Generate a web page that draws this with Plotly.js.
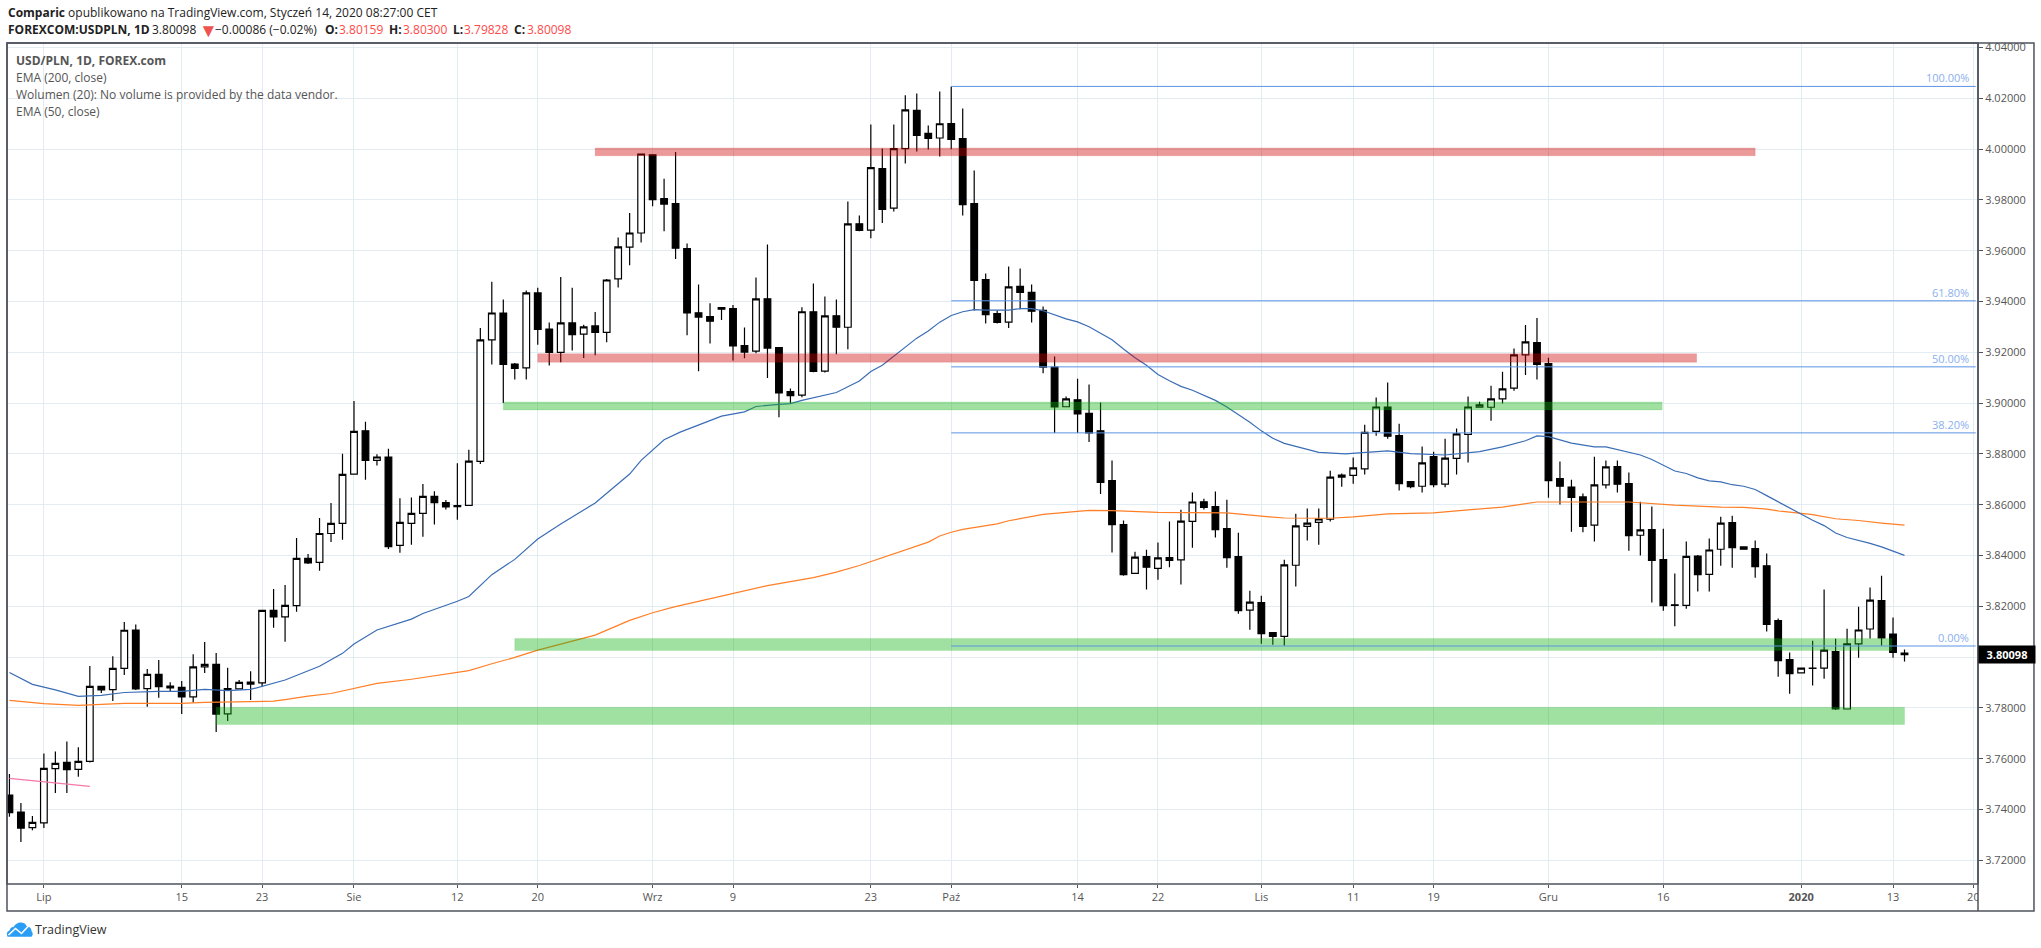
<!DOCTYPE html>
<html><head><meta charset="utf-8">
<script src="https://cdn.plot.ly/plotly-3.0.1.min.js"></script>
<style>html,body{margin:0;padding:0;background:#fff}#c{width:2041px;height:948px}</style></head>
<body><div id="c"></div>
<script>
const opens=[3.7457,3.7390,3.7329,3.7348,3.7561,3.7586,3.7558,3.7590,3.7885,3.7872,
3.7956,3.8107,3.7876,3.7932,3.7886,3.7881,3.7844,3.7962,3.7972,3.7777,
3.7875,3.7902,3.7899,3.8184,3.8159,3.8203,3.8389,3.8373,3.8487,3.8527,
3.8721,3.8891,3.8775,3.8788,3.8440,3.8527,3.8566,3.8633,3.8609,3.8597,
3.8598,3.8771,3.9249,3.9355,3.9154,3.9139,3.9434,3.9292,3.9200,3.9316,
3.9272,3.9304,3.9279,3.9489,3.9614,3.9670,3.9978,3.9805,3.9786,3.9609,
3.9356,3.9341,3.9376,3.9372,3.9227,3.9205,3.9411,3.9219,3.9046,3.9032,
3.9360,3.9126,3.9344,3.9299,3.9706,3.9681,3.9924,3.9768,4.0002,4.0153,
4.0062,4.0044,4.0101,4.0042,3.9786,3.9487,3.9353,3.9319,3.9460,3.9436,
3.9365,3.9142,3.8986,3.9013,3.8960,3.8891,3.8695,3.8522,3.8330,3.8396,
3.8350,3.8392,3.8383,3.8535,3.8612,3.8593,3.8506,3.8396,3.8185,3.8215,
3.8097,3.8082,3.8362,3.8515,3.8531,3.8543,3.8709,3.8716,3.8741,3.8889,
3.8985,3.8872,3.8691,3.8673,3.8790,3.8681,3.8783,3.8877,3.8984,3.8984,
3.9017,3.9059,3.9190,3.9238,3.9156,3.8703,3.8670,3.8631,3.8520,3.8678,
3.8750,3.8683,3.8480,3.8502,3.8384,3.8206,3.8204,3.8398,3.8326,3.8425,
3.8530,3.8434,3.8427,3.8360,3.8144,3.7990,3.7938,3.7957,3.7957,3.8022,
3.7796,3.8052,3.8111,3.8223,3.8091,3.80159];
const highs=[3.7540,3.7426,3.7375,3.7621,3.7629,3.7668,3.7645,3.7965,3.7885,3.8004,
3.8138,3.8129,3.7953,3.7989,3.7901,3.7906,3.8012,3.8060,3.8016,3.7958,
3.7910,3.7945,3.8184,3.8268,3.8284,3.8469,3.8406,3.8548,3.8607,3.8801,
3.9009,3.8927,3.8799,3.8821,3.8626,3.8629,3.8682,3.8653,3.8619,3.8763,
3.8817,3.9296,3.9478,3.9408,3.9158,3.9444,3.9454,3.9318,3.9497,3.9454,
3.9309,3.9359,3.9489,3.9652,3.9749,3.9981,3.9978,3.9884,3.9989,3.9629,
3.9467,3.9393,3.9376,3.9387,3.9298,3.9495,3.9625,3.9219,3.9058,3.9378,
3.9471,3.9420,3.9408,3.9794,3.9739,4.0097,4.0003,4.0097,4.0212,4.0219,
4.0093,4.0227,4.0247,4.0160,3.9916,3.9511,3.9365,3.9538,3.9530,3.9467,
3.9381,3.9184,3.9026,3.9096,3.9074,3.9003,3.8774,3.8538,3.8415,3.8423,
3.8451,3.8534,3.8580,3.8648,3.8624,3.8652,3.8620,3.8490,3.8262,3.8242,
3.8097,3.8384,3.8565,3.8585,3.8585,3.8734,3.8723,3.8786,3.8915,3.9022,
3.9081,3.8919,3.8691,3.8829,3.8809,3.8860,3.8900,3.9026,3.9006,3.9069,
3.9124,3.9215,3.9308,3.9335,3.9179,3.8770,3.8699,3.8644,3.8789,3.8774,
3.8774,3.8727,3.8612,3.8593,3.8506,3.8329,3.8455,3.8402,3.8467,3.8553,
3.8557,3.8434,3.8459,3.8408,3.8152,3.8018,3.7957,3.8065,3.8266,3.8073,
3.8112,3.8199,3.8274,3.8321,3.8156,3.80300];
const lows=[3.7372,3.7272,3.7319,3.7327,3.7465,3.7465,3.7529,3.7585,3.7859,3.7827,
3.7930,3.7871,3.7805,3.7840,3.7865,3.7776,3.7822,3.7938,3.7705,3.7749,
3.7875,3.7831,3.7884,3.8116,3.8061,3.8179,3.8367,3.8340,3.8453,3.8462,
3.8719,3.8699,3.8755,3.8426,3.8411,3.8443,3.8474,3.8522,3.8581,3.8541,
3.8596,3.8761,3.9152,3.9001,3.9093,3.9093,3.9230,3.9148,3.9161,3.9207,
3.9178,3.9189,3.9240,3.9455,3.9543,3.9633,3.9775,3.9677,3.9568,3.9267,
3.9126,3.9235,3.9327,3.9168,3.9177,3.9197,3.9099,3.8945,3.8998,3.9023,
3.9122,3.9121,3.9193,3.9212,3.9677,3.9649,3.9709,3.9755,3.9944,3.9991,
3.9999,3.9971,4.0000,3.9739,3.9365,3.9314,3.9314,3.9296,3.9370,3.9318,
3.9118,3.8883,3.8985,3.8883,3.8847,3.8642,3.8412,3.8321,3.8330,3.8266,
3.8305,3.8354,3.8286,3.8431,3.8581,3.8471,3.8352,3.8171,3.8108,3.8053,
3.8049,3.8045,3.8278,3.8459,3.8443,3.8534,3.8671,3.8683,3.8719,3.8872,
3.8860,3.8656,3.8665,3.8648,3.8669,3.8669,3.8719,3.8766,3.8984,3.8931,
3.8999,3.9049,3.9111,3.9093,3.8628,3.8601,3.8494,3.8492,3.8455,3.8664,
3.8648,3.8419,3.8400,3.8215,3.8183,3.8122,3.8191,3.8259,3.8259,3.8360,
3.8352,3.8425,3.8313,3.8101,3.7923,3.7856,3.7938,3.7888,3.7915,3.7792,
3.7796,3.7998,3.8074,3.8045,3.7998,3.79828];
const closes=[3.7388,3.7327,3.7350,3.7562,3.7582,3.7557,3.7590,3.7885,3.7871,3.7956,
3.8106,3.7875,3.7932,3.7884,3.7879,3.7844,3.7962,3.7972,3.7776,3.7876,
3.7901,3.7894,3.8184,3.8159,3.8204,3.8389,3.8371,3.8487,3.8527,3.8720,
3.8889,3.8775,3.8788,3.8435,3.8531,3.8566,3.8633,3.8608,3.8592,3.8593,
3.8772,3.9249,3.9355,3.9153,3.9137,3.9434,3.9290,3.9200,3.9316,3.9270,
3.9300,3.9279,3.9485,3.9615,3.9670,3.9981,3.9801,3.9784,3.9610,3.9355,
3.9339,3.9323,3.9370,3.9225,3.9201,3.9411,3.9217,3.9040,3.9030,3.9360,
3.9125,3.9344,3.9299,3.9706,3.9680,3.9927,3.9763,4.0002,4.0155,4.0054,
4.0042,4.0100,4.0038,3.9782,3.9483,3.9349,3.9318,3.9458,3.9436,3.9362,
3.9142,3.8985,3.9017,3.8958,3.8883,3.8688,3.8522,3.8325,3.8394,3.8354,
3.8391,3.8381,3.8536,3.8611,3.8590,3.8502,3.8392,3.8183,3.8217,3.8093,
3.8082,3.8363,3.8517,3.8528,3.8544,3.8709,3.8717,3.8745,3.8885,3.8985,
3.8870,3.8683,3.8671,3.8765,3.8679,3.8784,3.8879,3.8985,3.8993,3.9017,
3.9056,3.9190,3.9241,3.9153,3.8695,3.8673,3.8629,3.8515,3.8678,3.8749,
3.8681,3.8478,3.8501,3.8381,3.8203,3.8204,3.8397,3.8325,3.8422,3.8528,
3.8431,3.8425,3.8356,3.8129,3.7986,3.7935,3.7957,3.7956,3.8028,3.7796,
3.8052,3.8107,3.8225,3.8076,3.8019,3.80098];

const ema50Bars=[-3,-1,1,3,5,7,10,12,14,16,18,21,24,26,27,29,32,33,36,37,39,41,43,45,48,51,52,54,55.4,59,61,62,64,65,66,69,71,72,73,74,76,77,78,79,80,81,82,84,85,86,87,89,90,91,92,93,94,95,96,97,98,99,100,102,103,104,105,106,107,108,111,113.3,115,117,119,122,125,127,129,130,131,133,135,136,139,140,142,143,144,145,146,147,148,149,150,151,152,153,154,155,156,157,158,159,160,161,162];
const ema50=[3.7940,3.7893,3.7871,3.7846,3.7850,3.7861,3.7865,3.7865,3.7873,3.7868,3.7873,3.7910,3.7964,3.8015,3.8052,3.8107,3.8150,3.8172,3.8220,3.8239,3.8325,3.8385,3.8465,3.8524,3.8607,3.8721,3.8775,3.8856,3.8886,3.8949,3.8966,3.8987,3.8995,3.8998,3.9011,3.9042,3.9087,3.9125,3.9149,3.9184,3.9256,3.9284,3.9319,3.9345,3.9360,3.9368,3.9366,3.9366,3.9372,3.9372,3.9364,3.9332,3.9320,3.9301,3.9277,3.9250,3.9213,3.9179,3.9149,3.9113,3.9088,3.9066,3.9051,3.9011,3.8985,3.8956,3.8925,3.8891,3.8862,3.8842,3.8806,3.8800,3.8805,3.8812,3.8801,3.8796,3.8809,3.8828,3.8852,3.8871,3.8868,3.8843,3.8828,3.8828,3.8796,3.8778,3.8733,3.8723,3.8706,3.8694,3.8690,3.8679,3.8673,3.8660,3.8636,3.8611,3.8587,3.8561,3.8539,3.8518,3.8489,3.8471,3.8460,3.8448,3.8434,3.8417,3.8401];

const ema200Bars=[-3,0,3,5,7,12,14,18,20,21,23,25,27,29,32,35,37,39,41,43,48,51,53,54.8,60,63,67,69,71,72,77,78,79,80,83,84,87,91,93,97,103,106,108,112,114,117,121,124,127,130,138,142,146,148,150,151,154,156,158,160,162];
const ema200=[3.7830,3.7817,3.7810,3.7813,3.7818,3.7818,3.7822,3.7825,3.7827,3.7833,3.7847,3.7857,3.7877,3.7897,3.7913,3.7935,3.7947,3.7974,3.7999,3.8028,3.8087,3.8145,3.8175,3.8197,3.8252,3.8282,3.8313,3.8335,3.8361,3.8376,3.8453,3.8477,3.8492,3.8503,3.8525,3.8537,3.8562,3.8578,3.8577,3.8570,3.8568,3.8555,3.8548,3.8547,3.8552,3.8564,3.8568,3.8580,3.8591,3.8611,3.8611,3.8599,3.8591,3.8590,3.8583,3.8576,3.8561,3.8545,3.8538,3.8528,3.8520];

const pinkBars=[-3,4];
const pinkLine=[3.7523,3.7491];

const tickBars=[0,12,19,27,36,43,53,60,72,79,90,97,106,114,121,131,141,153,161,168];
const tickNames=['Lip','15','23','Sie','12','20','Wrz','9','23','Paź','14','22','Lis','11','19','Gru','16','<b>2020</b>','13','20'];

const zoneStart=[48,43,40,41,15];
const zoneEnd=[149,143.9,140.9,160.9,162];
const zoneTop=[4.0005,3.9195,3.9005,3.8074,3.7803];
const zoneBottom=[3.9974,3.9161,3.8973,3.8026,3.7735];
const zoneKinds=['red','red','green','green','green'];

const fibLevels=[4.0247,3.9403,3.9143,3.8883,3.8044];
const fibNames=['100.00%','61.80%','50.00%','38.20%','0.00%'];
const fibFrom=79, fibTo=168.2;
const lastPrice=3.80098;

// page geometry in pixels
const W=2041,H=948,L=6.5,R=1978.3,T=43,B=884,OR=2034.3,OB=911;
const px=x=>(x-L)/(R-L), py=y=>(B-y)/(B-T);
const font="'Open Sans', sans-serif", grid='#e3ecf2', frame='#50535e';
const bars=opens.map((_,i)=>i-3);

const zoneFill={red:'rgba(204,0,0,0.4)',green:'rgba(18,178,18,0.4)'};
const zoneEdge={red:'rgba(204,0,0,0.12)',green:'rgba(18,178,18,0.12)'};
const shapes=[];
zoneStart.forEach((s,i)=>shapes.push({type:'rect',xref:'x',yref:'y',layer:'above',x0:s,x1:zoneEnd[i],y0:zoneBottom[i],y1:zoneTop[i],fillcolor:zoneFill[zoneKinds[i]],line:{color:zoneEdge[zoneKinds[i]],width:1}}));
fibLevels.forEach(v=>shapes.push({type:'line',xref:'x',yref:'y',layer:'above',x0:fibFrom,x1:fibTo,y0:v,y1:v,line:{color:'#5b94e6',width:1}}));
const paperRect=(x0,y0,x1,y1,o)=>Object.assign({type:'rect',xref:'paper',yref:'paper',layer:'above',x0:px(x0),x1:px(x1),y0:py(y1),y1:py(y0),line:{width:0}},o);
shapes.push(paperRect(R,885,OR,OB,{fillcolor:'#fff'}));
shapes.push(paperRect(R,30,W,T,{fillcolor:'#fff'}));
shapes.push(paperRect(L,T,OR,OB,{line:{color:frame,width:1.5}}));
shapes.push(paperRect(L,T,R,B,{line:{color:frame,width:1.5}}));
shapes.push(paperRect(R,T,R,OB,{line:{color:frame,width:1.5}}));
// logo
const P=(x,y)=>px(x).toFixed(5)+','+py(y).toFixed(5);
shapes.push({type:'path',xref:'paper',yref:'paper',layer:'above',fillcolor:'#2a9df4',line:{width:0},
 path:'M'+P(7,936.7)+' Q'+P(5,932)+' '+P(9,930.5)+' Q'+P(10,927)+' '+P(13,927)+' Q'+P(16,922)+' '+P(21,922.5)+' Q'+P(25,923)+' '+P(26,926)+' Q'+P(31,927)+' '+P(31,931)+' Q'+P(33.5,934)+' '+P(31,936.7)+' Z'});
shapes.push({type:'path',xref:'paper',yref:'paper',layer:'above',line:{color:'#fff',width:1.6},
 path:'M'+P(8,935)+' L'+P(15,928.5)+' L'+P(21,933.5)+' L'+P(28,926)});

const ann=(x,y,text,size,color,extra)=>Object.assign({xref:'paper',yref:'paper',x:px(x),y:py(y),text,showarrow:false,xanchor:'left',yanchor:'middle',align:'left',borderpad:0,font:{family:font,size,color}},extra||{});
const red='#ff4a4a', dark='#222', hs=12;
const annotations=[
 ann(6,13,'<b>Comparic</b> opublikowano na TradingView.com, Styczeń 14, 2020 08:27:00 CET',hs,dark),
 ann(6,30,'<b>FOREXCOM:USDPLN, 1D</b>',hs,dark),
 ann(151,30,'3.80098',hs,dark),
 ann(198,30,'▼',19,'#ef5350'),
 ann(214,30,'−0.00086 (−0.02%)',hs,dark),
 ann(324,30,'<b>O:</b>',hs,dark), ann(338,30,'3.80159',hs,red),
 ann(388,30,'<b>H:</b>',hs,dark), ann(402,30,'3.80300',hs,red),
 ann(452,30,'<b>L:</b>',hs,dark), ann(463,30,'3.79828',hs,red),
 ann(513,30,'<b>C:</b>',hs,dark), ann(525.5,30,'3.80098',hs,red),
 ann(15,60.5,'<b>USD/PLN, 1D, FOREX.com</b>',hs,'#555'),
 ann(15,77.5,'EMA (200, close)',hs,'#555'),
 ann(15,94.5,'Wolumen (20): No volume is provided by the data vendor.',hs,'#555'),
 ann(15,111.5,'EMA (50, close)',hs,'#555'),
 ann(34,929.5,'TradingView',12.5,'#333'),
 {xref:'paper',yref:'y',x:px(R),y:lastPrice,text:'<b>'+lastPrice.toFixed(5)+'</b>',showarrow:false,xanchor:'left',yanchor:'middle',width:56,height:17,align:'center',bgcolor:'#000',borderpad:0,font:{family:font,size:11,color:'#fff'}}
];
fibLevels.forEach((v,i)=>annotations.push({xref:'x',yref:'y',x:fibTo,y:v,xshift:-6,text:fibNames[i],showarrow:false,xanchor:'right',yanchor:'bottom',borderpad:0,font:{family:font,size:11,color:'#8bb0ee'}}));

const traces=[
 {type:'candlestick',x:bars,open:opens,high:highs,low:lows,close:closes,whiskerwidth:0,hoverinfo:'skip',
  increasing:{line:{color:'#000',width:1.2},fillcolor:'#fff'},decreasing:{line:{color:'#000',width:1.2},fillcolor:'#000'},showlegend:false},
 {type:'scatter',mode:'lines',x:ema200Bars,y:ema200,line:{color:'#ff7f27',width:1.2},hoverinfo:'skip',showlegend:false},
 {type:'scatter',mode:'lines',x:ema50Bars,y:ema50,line:{color:'#3a6db5',width:1.2},hoverinfo:'skip',showlegend:false},
 {type:'scatter',mode:'lines',x:pinkBars,y:pinkLine,line:{color:'#f478a8',width:1.2},hoverinfo:'skip',showlegend:false}
];
const pxPerBar=11.49;
const layout={width:W,height:H,paper_bgcolor:'#fff',plot_bgcolor:'#fff',showlegend:false,hovermode:false,
 margin:{l:L,r:W-R,t:T,b:H-B,pad:0,autoexpand:false},boxgap:0.42,boxgroupgap:0,
 xaxis:{type:'linear',range:[(L-43.4)/pxPerBar,(R-43.4)/pxPerBar],tickmode:'array',tickvals:tickBars,ticktext:tickNames,ticks:'outside',ticklen:3,tickcolor:frame,tickwidth:1,
  gridcolor:grid,gridwidth:1,zeroline:false,showline:false,rangeslider:{visible:false},tickfont:{family:font,size:11,color:'#555'},automargin:false},
 yaxis:{side:'right',range:[3.7107,4.0418],tickmode:'linear',tick0:3.72,dtick:0.02,tickformat:'.5f',ticks:'outside',ticklen:4,tickcolor:frame,tickwidth:1,
  gridcolor:grid,gridwidth:1,zeroline:false,showline:false,tickfont:{family:font,size:11,color:'#555'},automargin:false},
 shapes,annotations};
Plotly.newPlot('c',traces,layout,{displayModeBar:false,staticPlot:true});
</script></body></html>
